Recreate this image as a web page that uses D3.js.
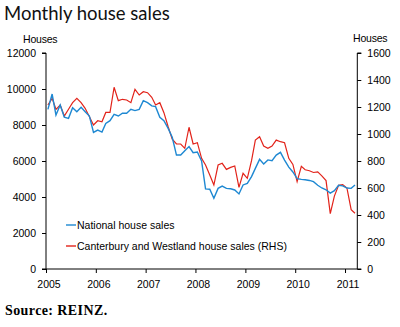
<!DOCTYPE html>
<html>
<head>
<meta charset="utf-8">
<script src="https://cdn.jsdelivr.net/npm/d3@7"></script>
<style>
  body { margin: 0; background: #fff; }
  svg { display: block; }
  text { font-family: "Liberation Sans", Arial, sans-serif; fill: #000; }
</style>
</head>
<body>
<script>
// monthly series, Jan 2005 .. Mar 2011
var startMonth = new Date(2005, 0, 1);
var national = [8870, 9720, 8550, 9110, 8430, 8370, 8960, 8740, 8980, 8740, 8500, 7590,
    7720, 7610, 8090, 8240, 8590, 8500, 8660, 8650, 8870, 8800, 8870, 9350,
    9240, 9060, 9020, 8430, 8240, 7810, 7320, 6330, 6330, 6570, 6800, 6460,
    6500, 6000, 4450, 4430, 3930, 4480, 4610, 4480, 4460, 4390, 4170, 4670,
    4760, 5130, 5590, 6090, 5830, 6060, 6020, 6330, 6480, 6050, 5660, 5390,
    5020, 4980, 4960, 4920, 4850, 4650, 4500, 4400, 4220, 4350, 4650, 4620,
    4500, 4480, 4670];
var canterbury = [1215, 1264, 1183, 1215, 1133, 1183, 1232, 1264, 1232, 1190, 1128, 1067,
    1098, 1091, 1160, 1160, 1346, 1247, 1257, 1252, 1232, 1331, 1289, 1313,
    1306, 1272, 1215, 1232, 1158, 1054, 961, 926, 926, 894, 1050, 926,
    936, 820, 770, 696, 622, 770, 783, 738, 753, 763, 605, 709,
    672, 802, 955, 980, 911, 894, 911, 955, 943, 935, 820, 775,
    647, 760, 735, 728, 715, 720, 690, 655, 410, 540, 620, 625,
    600, 440, 413];
var leftTicks = [0, 2000, 4000, 6000, 8000, 10000, 12000];
var rightTicks = [0, 200, 400, 600, 800, 1000, 1200, 1400, 1600];
var yearTicks = [2005, 2006, 2007, 2008, 2009, 2010, 2011];
var seriesNames = ["National house sales", "Canterbury and Westland house sales (RHS)"];
var seriesColors = ["#1e88d2", "#e2231a"];

var width = 400, height = 327;
var plot = { left: 46, right: 357.3, top: 53, bottom: 269 };

var svg = d3.select("body").append("svg")
    .attr("width", width)
    .attr("height", height);

var x = d3.scaleTime()
    .domain([startMonth, new Date(2011, 3, 1)])
    .range([plot.left, plot.right]);
var yL = d3.scaleLinear().domain([0, 12000]).range([plot.bottom, plot.top]);
var yR = d3.scaleLinear().domain([0, 1600]).range([plot.bottom, plot.top]);

// mid-month dates
function monthDate(i) {
    return new Date(startMonth.getFullYear(), startMonth.getMonth() + i, 15);
}

// title
svg.append("text")
    .attr("x", 4).attr("y", 20)
    .style("font-family", "Lato, 'Open Sans', sans-serif")
    .style("font-size", "18.5px")
    .style("fill", "#111")
    .text("Monthly house sales");

// axes
var leftAxis = d3.axisLeft(yL).tickValues(leftTicks).tickSize(4).tickPadding(6)
    .tickFormat(d3.format("d"));
var rightAxis = d3.axisRight(yR).tickValues(rightTicks).tickSize(4).tickPadding(6)
    .tickFormat(d3.format("d"));
var bottomAxis = d3.axisBottom(x)
    .tickValues(yearTicks.map(function(y) { return new Date(y, 0, 1); }))
    .tickSize(4).tickPadding(8)
    .tickFormat(d3.timeFormat("%Y"));

function styleAxis(g) {
    g.select(".domain").attr("stroke", "#000").attr("stroke-width", 1);
    g.selectAll(".tick line").attr("stroke", "#000");
    g.selectAll(".tick text")
        .style("font-family", "'Liberation Sans', Arial, sans-serif")
        .style("font-size", "10.5px")
        .attr("fill", "#000");
}

svg.append("g")
    .attr("transform", "translate(" + plot.left + ",0)")
    .call(leftAxis).call(styleAxis)
    .select(".domain").attr("d", "M-4," + plot.top + "H0V" + plot.bottom + "H-4");

svg.append("g")
    .attr("transform", "translate(" + plot.right + ",0)")
    .call(rightAxis).call(styleAxis)
    .select(".domain").attr("d", "M4," + plot.top + "H0V" + plot.bottom + "H4");

var bx = svg.append("g")
    .attr("transform", "translate(0," + plot.bottom + ")")
    .call(bottomAxis).call(styleAxis);
bx.select(".domain").attr("d", "M" + plot.left + ",0H" + plot.right);
bx.selectAll(".tick text").attr("dx", 2.5);

// unit labels
svg.append("text").attr("x", 23).attr("y", 43)
    .style("font-size", "10.5px").style("letter-spacing", "-0.2px")
    .text("Houses");
svg.append("text").attr("x", 353).attr("y", 42)
    .style("font-size", "10.5px").style("letter-spacing", "-0.2px")
    .text("Houses");

// lines
var lineL = d3.line()
    .x(function(d, i) { return x(monthDate(i)); })
    .y(function(d) { return yL(d); });
var lineR = d3.line()
    .x(function(d, i) { return x(monthDate(i)); })
    .y(function(d) { return yR(d); });

svg.append("path")
    .datum(canterbury)
    .attr("d", lineR)
    .attr("fill", "none")
    .attr("stroke", seriesColors[1])
    .attr("stroke-width", 1.2);

svg.append("path")
    .datum(national)
    .attr("d", lineL)
    .attr("fill", "none")
    .attr("stroke", seriesColors[0])
    .attr("stroke-width", 1.4);

// legend
var legend = svg.append("g").attr("transform", "translate(66,225)");
seriesNames.forEach(function(name, i) {
    var g = legend.append("g").attr("transform", "translate(0," + (i * 21) + ")");
    g.append("line")
        .attr("x1", 0).attr("x2", 10)
        .attr("y1", 0).attr("y2", 0)
        .attr("stroke", seriesColors[i])
        .attr("stroke-width", 1.4);
    g.append("text")
        .attr("x", 11).attr("y", 4.3)
        .style("font-size", "10.5px")
        .text(name);
});

// source
svg.append("text")
    .attr("x", 5).attr("y", 315)
    .style("font-family", "'Liberation Serif', 'Times New Roman', serif")
    .style("font-weight", "bold")
    .style("font-size", "14px")
    .style("letter-spacing", "0.4px")
    .text("Source: REINZ.");
</script>
</body>
</html>
